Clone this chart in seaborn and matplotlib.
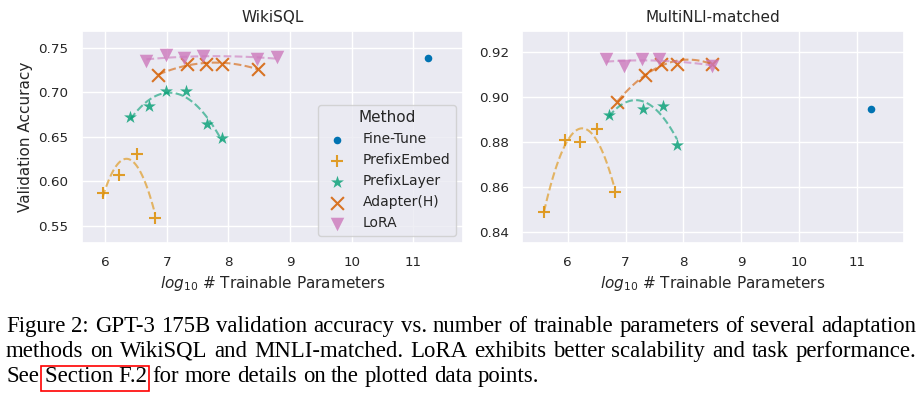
import matplotlib
matplotlib.use('Agg')
import matplotlib.pyplot as plt
import seaborn as sns
from matplotlib.patches import Rectangle

methods = ['Fine-Tune', 'PrefixEmbed', 'PrefixLayer', 'Adapter(H)', 'LoRA']
colors = ['#0173B2', '#DE8F05', '#029E73', '#D55E00', '#CC78BC']
markers = ['o', '+', '*', 'x', 'v']

# WikiSQL (log10 #params, accuracy)
wiki_ft_x = [11.24]
wiki_ft_y = [0.738]
wiki_pe_x = [5.96, 6.23, 6.51, 6.81]
wiki_pe_y = [0.587, 0.607, 0.631, 0.559]
wiki_pl_x = [6.41, 6.71, 6.99, 7.31, 7.65, 7.89]
wiki_pl_y = [0.672, 0.685, 0.701, 0.701, 0.664, 0.649]
wiki_ad_x = [6.86, 7.33, 7.63, 7.89, 8.48]
wiki_ad_y = [0.719, 0.732, 0.732, 0.732, 0.726]
wiki_lora_x = [6.67, 6.98, 7.28, 7.58, 8.47, 8.78]
wiki_lora_y = [0.735, 0.742, 0.738, 0.741, 0.737, 0.739]

# MultiNLI-matched
mnli_ft_x = [11.24]
mnli_ft_y = [0.895]
mnli_pe_x = [5.59, 5.95, 6.22, 6.51, 6.81]
mnli_pe_y = [0.849, 0.881, 0.880, 0.886, 0.858]
mnli_pl_x = [6.71, 7.30, 7.65, 7.89]
mnli_pl_y = [0.892, 0.895, 0.896, 0.879]
mnli_ad_x = [6.86, 7.34, 7.61, 7.89, 8.49]
mnli_ad_y = [0.898, 0.910, 0.915, 0.915, 0.915]
mnli_lora_x = [6.67, 6.97, 7.28, 7.58, 8.50]
mnli_lora_y = [0.917, 0.914, 0.917, 0.917, 0.914]

caption_lines = [
    "Figure 2: GPT-3 175B validation accuracy vs. number of trainable parameters of several adaptation",
    "methods on WikiSQL and MNLI-matched. LoRA exhibits better scalability and task performance.",
    "See Section F.2 for more details on the plotted data points.",
]

sns.set_theme(style='darkgrid')
plt.rcParams['font.family'] = 'DejaVu Sans'

W, H = 919, 398
fig = plt.figure(figsize=(W / 100, H / 100), dpi=100)


def draw_panel(ax, xs, ys, title, xlim, ylim, yticks, legend):
    for name, c, m, x, y in zip(methods, colors, markers, xs, ys):
        if m == 'o':
            sns.scatterplot(x=x, y=y, ax=ax, color=c, marker=m, s=30,
                            linewidth=0, label=name)
        elif m in ('+', 'x'):
            sns.scatterplot(x=x, y=y, ax=ax, color=c, marker=m, s=85,
                            linewidth=1.5, alpha=0.85, label=name)
        else:
            sns.scatterplot(x=x, y=y, ax=ax, color=c, marker=m, s=95,
                            linewidth=0, alpha=0.8, label=name)
        if name != 'Fine-Tune':
            sns.regplot(x=x, y=y, ax=ax, order=2, ci=None, scatter=False,
                        color=c, line_kws=dict(ls='--', lw=1.5, alpha=0.6))
    ax.set_xlim(*xlim)
    ax.set_ylim(*ylim)
    ax.set_xticks([6, 7, 8, 9, 10, 11])
    ax.set_yticks(yticks)
    ax.set_yticklabels(['%.2f' % v for v in yticks])
    ax.tick_params(labelsize=9.7, colors='#262626')
    ax.set_title(title, fontsize=11, color='#262626')
    ax.set_xlabel(r'$log_{10}$ # Trainable Parameters', fontsize=11, color='#262626')
    if legend:
        ax.set_ylabel('Validation Accuracy', fontsize=11, color='#262626')
        ax.legend(title='Method', loc='lower right', fontsize=10, title_fontsize=11)
    else:
        ax.set_ylabel('')
        ax.get_legend().remove()


ax1 = fig.add_axes([81.7 / W, 1 - 242.7 / H, (462.7 - 81.7) / W, 212 / H])
ax2 = fig.add_axes([522.3 / W, 1 - 242.7 / H, (903.7 - 522.3) / W, 212 / H])

draw_panel(ax1,
           [wiki_ft_x, wiki_pe_x, wiki_pl_x, wiki_ad_x, wiki_lora_x],
           [wiki_ft_y, wiki_pe_y, wiki_pl_y, wiki_ad_y, wiki_lora_y],
           'WikiSQL', (5.62, 11.80), (0.531, 0.769),
           [0.55, 0.60, 0.65, 0.70, 0.75], True)
draw_panel(ax2,
           [mnli_ft_x, mnli_pe_x, mnli_pl_x, mnli_ad_x, mnli_lora_x],
           [mnli_ft_y, mnli_pe_y, mnli_pl_y, mnli_ad_y, mnli_lora_y],
           'MultiNLI-matched', (5.215, 11.81), (0.8354, 0.9296),
           [0.84, 0.86, 0.88, 0.90, 0.92], False)

# caption, justified like the LaTeX source
r = fig.canvas.get_renderer()
cap_fs = 16.4
cap_font = 'Liberation Serif'
x0, x1 = 6, 916
baselines = [331.7, 356.7, 381.7]


def text_width(s):
    t = fig.text(0, 0, s, fontsize=cap_fs, family=cap_font)
    w = t.get_window_extent(r).width
    t.remove()
    return w


space = text_width('x x') - text_width('xx')

for i, (line, base) in enumerate(zip(caption_lines, baselines)):
    if i == 2:
        words = ['See', 'Section F.2', 'for', 'more', 'details', 'on', 'the',
                 'plotted', 'data', 'points.']
    else:
        words = line.split(' ')
    widths = [text_width(w) for w in words]
    if i < 2:
        gap = (x1 - x0 - sum(widths)) / (len(words) - 1)
    else:
        gap = space
    x = x0
    for w, wd in zip(words, widths):
        fig.text(x / W, 1 - base / H, w, fontsize=cap_fs, family=cap_font,
                 va='baseline', ha='left', color='black')
        if w == 'Section F.2':
            fig.patches.append(Rectangle(((x - 4) / W, 1 - (base + 9.3) / H),
                                         (wd + 6.5) / W, 25 / H,
                                         transform=fig.transFigure, fill=False,
                                         edgecolor='#FF0000', lw=1.2))
        x += wd + gap

fig.savefig('out.png', dpi=100)
